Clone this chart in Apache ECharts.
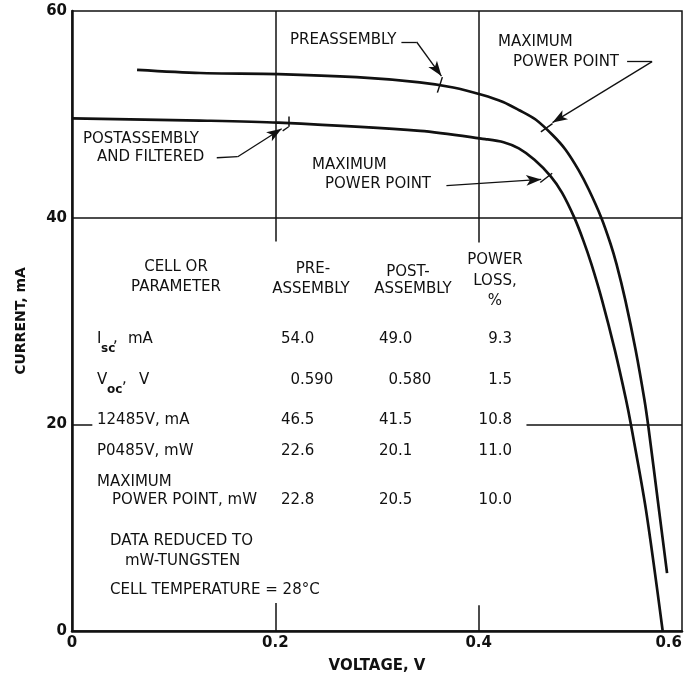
<!DOCTYPE html>
<html><head><meta charset="utf-8">
<script src="https://cdn.jsdelivr.net/npm/echarts@6/dist/echarts.min.js"></script>
<style>html,body{margin:0;padding:0;background:#fff}#c{width:685px;height:685px}</style>
</head><body><div id="c"></div>
<script>
// ---- data ----
const preVoltage  = [0.064,0.126,0.203,0.280,0.342,0.375,0.403,0.424,0.440,0.456,0.4727,0.4853,0.4983,0.5084,0.5206,0.5296,0.5356,0.5443,0.5544,0.5630,0.5670,0.5774,0.5853];
const preCurrent  = [54.3, 54.0, 53.9, 53.6, 53.1, 52.6, 51.9, 51.2, 50.4, 49.5, 48.0,  46.6,  44.6,  42.7,  40.0,  37.5,  35.5,  32.0,  27.2,  22.4,  19.7,  11.7,  5.6];
const postVoltage = [0.000,0.126,0.203,0.3425,0.4065,0.4245,0.4395,0.4549,0.4709,0.4821,0.4941,0.5029,0.5109,0.5214,0.5339,0.5449,0.5497,0.5646,0.581];
const postCurrent = [49.6, 49.4, 49.2, 48.4,  47.6,  47.3,  46.7,  45.6,  44.0,  42.4,  40.0,  37.8,  35.5,  32.0,  27.2,  22.4,  20.0,  11.7,  0.0];
const xTicks = [0, 0.2, 0.4, 0.6];
const yTicks = [0, 20, 40, 60];
const tableParams = ['I_sc, mA', 'V_oc, V', '12485V, mA', 'P0485V, mW', 'MAXIMUM|POWER POINT, mW'];
const preValues  = ['54.0', '0.590', '46.5', '22.6', '22.8'];
const postValues = ['49.0', '0.580', '41.5', '20.1', '20.5'];
const lossValues = ['9.3', '1.5', '10.8', '11.0', '10.0'];

// ---- layout / styling ----
const FONT = '"DejaVu Sans", "Liberation Sans", sans-serif';
const INK = '#111';
const chart = echarts.init(document.getElementById('c'), null, {renderer: 'canvas'});

function pairs(xs, ys) { return xs.map((x, i) => [x, ys[i]]); }

function seg(a, b, arrow, width) {
  return [
    {coord: a, symbol: 'none', lineStyle: {color: INK, width: width || 1.3, type: 'solid'}},
    {coord: b, symbol: arrow ? 'arrow' : 'none', symbolSize: [8, 15]}
  ];
}
// grid-line pieces (data space)
const gridSegs = [
  seg([0, 40], [0.6, 40], false, 1.5),
  seg([0, 20], [0.02, 20], false, 1.5),
  seg([0.447, 20], [0.6, 20], false, 1.5),
  seg([0.2, 60], [0.2, 37.7], false, 1.5),
  seg([0.2, 0], [0.2, 2.7], false, 1.5),
  seg([0.4, 60], [0.4, 37.6], false, 1.5),
  seg([0.4, 0], [0.4, 2.5], false, 1.5)
];
// annotation leaders (data space)
const leaderSegs = [
  seg([0.324, 57.0], [0.339, 57.0]),
  seg([0.339, 57.0], [0.3634, 53.7], true),
  seg([0.3643, 53.6], [0.3594, 52.1], false, 1.5),
  seg([0.546, 55.1], [0.5706, 55.1]),
  seg([0.5706, 55.1], [0.4726, 49.2], true),
  seg([0.4612, 48.3], [0.4726, 49.1], false, 1.5),
  seg([0.3683, 43.1], [0.4615, 43.7], true),
  seg([0.4606, 43.4], [0.4723, 44.3], false, 1.5),
  seg([0.1424, 45.8], [0.163, 45.9]),
  seg([0.163, 45.9], [0.2062, 48.6], true),
  seg([0.2131, 49.8], [0.2131, 48.8], false, 1.5),
  seg([0.2131, 48.8], [0.2072, 48.4], false, 1.3)
];

function txt(s, x, y, o) {
  o = o || {};
  return {
    type: 'text', x: x, y: y, silent: true,
    style: {
      text: s, fill: INK,
      font: (o.weight || 'normal') + ' ' + (o.size || 15) + 'px ' + FONT,
      align: o.align || 'left', textAlign: o.align || 'left',
      verticalAlign: 'middle', textVerticalAlign: 'middle'
    }
  };
}

const g = [];
// annotations
g.push(txt('PREASSEMBLY', 290, 40));
g.push(txt('MAXIMUM', 498, 42));
g.push(txt('POWER POINT', 513, 62));
g.push(txt('MAXIMUM', 312, 165));
g.push(txt('POWER POINT', 325, 184));
g.push(txt('POSTASSEMBLY', 83, 139));
g.push(txt('AND FILTERED', 97, 157));
// table header
g.push(txt('CELL OR', 176, 267, {align: 'center'}));
g.push(txt('PARAMETER', 176, 287, {align: 'center'}));
g.push(txt('PRE-', 313, 269, {align: 'center'}));
g.push(txt('ASSEMBLY', 311, 289, {align: 'center'}));
g.push(txt('POST-', 408, 272, {align: 'center'}));
g.push(txt('ASSEMBLY', 413, 289, {align: 'center'}));
g.push(txt('POWER', 495, 260, {align: 'center'}));
g.push(txt('LOSS,', 495, 281, {align: 'center'}));
g.push(txt('%', 495, 301, {align: 'center'}));
// table rows
const rowY = [339, 380, 420, 451, 500];
tableParams.forEach((p, i) => {
  const y = rowY[i];
  if (p.indexOf('_') >= 0) {
    const m = p.match(/^(\w)_(\w+),\s*(.*)$/);
    const subX = i === 0 ? 101 : 107;
    const comX = i === 0 ? 113 : 122;
    const restX = i === 0 ? 128 : 139;
    g.push(txt(m[1], 97, y));
    g.push(txt(m[2], subX, y + 10, {size: 12, weight: 'bold'}));
    g.push(txt(',', comX, y - 1));
    g.push(txt(m[3], restX, y));
  } else if (p.indexOf('|') >= 0) {
    const parts = p.split('|');
    g.push(txt(parts[0], 97, y - 18));
    g.push(txt(parts[1], 112, y));
  } else {
    g.push(txt(p, 97, y));
  }
  const dec = (v, x) => {
    const k = v.indexOf('.');
    g.push(txt(v.slice(0, k), x, y, {align: 'right'}));
    g.push(txt(v.slice(k), x, y));
  };
  dec(preValues[i], 300);
  dec(postValues[i], 398);
  g.push(txt(lossValues[i], 512, y, {align: 'right'}));
});
g.push(txt('DATA REDUCED TO', 110, 541));
g.push(txt('mW-TUNGSTEN', 125, 561));
g.push(txt('CELL TEMPERATURE = 28°C', 110, 590));

const option = {
  animation: false,
  backgroundColor: '#fff',
  grid: {left: 72, right: 2, top: 11, bottom: 54, show: true, borderColor: INK, borderWidth: 1.5, backgroundColor: 'transparent'},
  xAxis: {
    type: 'value', min: xTicks[0], max: xTicks[xTicks.length - 1], interval: 0.2,
    name: 'VOLTAGE, V', nameLocation: 'middle', nameGap: 28,
    nameTextStyle: {fontFamily: FONT, fontWeight: 'bold', fontSize: 15, color: INK},
    axisLine: {show: true, lineStyle: {color: INK, width: 2.5}},
    axisTick: {show: false}, splitLine: {show: false},
    axisLabel: {fontFamily: FONT, fontWeight: 'bold', fontSize: 15, color: INK, margin: 5,
      alignMaxLabel: 'right', formatter: v => (v === 0 ? '0' : v.toFixed(1))}
  },
  yAxis: {
    type: 'value', min: yTicks[0], max: yTicks[yTicks.length - 1], interval: 20,
    name: 'CURRENT, mA', nameLocation: 'middle', nameGap: 44, nameRotate: 90,
    nameTextStyle: {fontFamily: FONT, fontWeight: 'bold', fontSize: 14, color: INK},
    axisLine: {show: true, lineStyle: {color: INK, width: 2.5}},
    axisTick: {show: false}, splitLine: {show: false},
    axisLabel: {fontFamily: FONT, fontWeight: 'bold', fontSize: 15, color: INK, margin: 5}
  },
  series: [
    {
      name: 'PREASSEMBLY', type: 'line', data: pairs(preVoltage, preCurrent),
      smooth: 0.3, showSymbol: false, symbol: 'none',
      lineStyle: {color: INK, width: 2.7}, silent: true, z: 5
    },
    {
      name: 'POSTASSEMBLY AND FILTERED', type: 'line', data: pairs(postVoltage, postCurrent),
      smooth: 0.3, showSymbol: false, symbol: 'none',
      lineStyle: {color: INK, width: 2.7}, silent: true, z: 5
    },
    {
      name: 'guides', type: 'line', data: [], silent: true, z: 3,
      markLine: {silent: true, animation: false, symbol: ['none', 'none'], label: {show: false},
        emphasis: {disabled: true}, itemStyle: {color: '#333'},
        lineStyle: {color: INK, width: 1.5, type: 'solid'}, data: gridSegs.concat(leaderSegs)}
    }
  ],
  graphic: {elements: g}
};
chart.setOption(option);
</script>
</body></html>
